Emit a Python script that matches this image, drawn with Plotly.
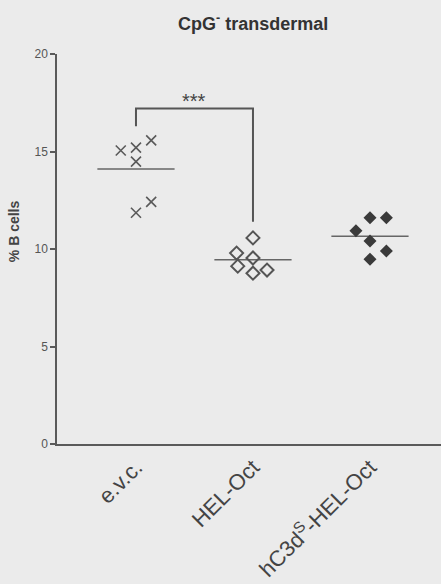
import plotly.graph_objects as go

categories = ["e.v.c.", "HEL-Oct", "hC3d<sup>S</sup>-HEL-Oct"]
evc_values = [15.05, 15.2, 15.57, 14.48, 11.86, 12.42]
hel_values = [10.57, 9.79, 9.54, 9.12, 8.76, 8.92]
hc3d_values = [11.6, 11.6, 10.93, 10.41, 9.9, 9.48]

evc_jitter = [-0.13, 0.0, 0.13, 0.0, 0.0, 0.13]
hel_jitter = [0.0, -0.14, 0.0, -0.13, 0.0, 0.12]
hc3d_jitter = [0.0, 0.14, -0.12, 0.0, 0.14, 0.0]

BG = "#ebebeb"
AX = "#5a5a5a"
FONT = "Liberation Sans, Arial, sans-serif"

fig = go.Figure()

groups = [
    (0, evc_values, evc_jitter, dict(symbol="x-thin", size=10, line=dict(width=1.6, color="#5a5a5a"), color="#5a5a5a")),
    (1, hel_values, hel_jitter, dict(symbol="diamond-open", size=10, line=dict(width=2, color="#555555"), color="#555555")),
    (2, hc3d_values, hc3d_jitter, dict(symbol="diamond", size=10, line=dict(width=0), color="#3a3a3a")),
]

for idx, vals, jit, mk in groups:
    mean = sum(vals) / len(vals)
    fig.add_trace(go.Scatter(x=[idx - 0.33, idx + 0.33], y=[mean, mean], mode="lines",
                             line=dict(color="#666666", width=1.5), showlegend=False, hoverinfo="skip"))
    fig.add_trace(go.Scatter(x=[idx + j for j in jit], y=vals, mode="markers",
                             marker=mk, showlegend=False))

# significance bracket
fig.add_trace(go.Scatter(x=[0, 0, 1, 1], y=[16.3, 17.2, 17.2, 11.4], mode="lines",
                         line=dict(color="#555555", width=2), showlegend=False, hoverinfo="skip"))
fig.add_annotation(x=0.5, y=17.2, text="***", showarrow=False, yanchor="bottom", yshift=-5,
                   font=dict(family=FONT, size=20, color="#444444"))

fig.add_annotation(xref="paper", yref="paper", x=-0.11, y=0.545, xanchor="center", yanchor="middle",
                   text="<b>% B cells</b>", textangle=-90, showarrow=False,
                   font=dict(family=FONT, size=14, color="#444444"))

fig.update_layout(
    width=441, height=584,
    paper_bgcolor=BG, plot_bgcolor=BG,
    margin=dict(l=57, r=0, t=54, b=140),
    title=dict(text="<b>CpG<sup>-</sup> transdermal</b>", x=0.574, xanchor="center", y=0.96, yanchor="middle",
               font=dict(family=FONT, size=18, color="#333333")),
    xaxis=dict(range=[-0.675, 2.607], tickvals=[0, 1, 2], ticktext=categories, tickangle=-45,
               showline=True, linecolor=AX, linewidth=1.5, showgrid=False, zeroline=False, ticks="",
               automargin=False,
               tickfont=dict(family=FONT, size=22, color="#444444")),
    yaxis=dict(range=[0, 20], tickvals=[0, 5, 10, 15, 20], showline=True, linecolor=AX, linewidth=1.5,
               ticks="outside", ticklen=5, tickcolor=AX, tickwidth=1.5, showgrid=False, zeroline=False,
               automargin=False,
               tickfont=dict(family=FONT, size=12, color="#555555")),
)

fig.write_html("out.html", config={"displayModeBar": False},
               post_script="document.body.style.margin='0';document.body.style.background='%s';" % BG)
